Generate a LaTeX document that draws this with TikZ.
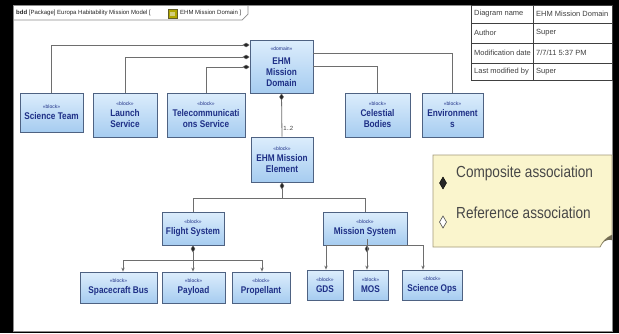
\documentclass[tikz,border=0pt]{standalone}
\usepackage{fontspec}
\setmainfont{Liberation Sans}
\newfontfamily\narrow[FakeStretch=0.85]{Liberation Sans}
\usetikzlibrary{arrows.meta,shadows,calc}

\definecolor{boxline}{HTML}{4E6282}
\definecolor{boxtop}{HTML}{DCEDFC}
\definecolor{boxbot}{HTML}{A6CCF0}
\definecolor{nametext}{HTML}{1E2F86}
\definecolor{linegray}{HTML}{6E6E6E}
\definecolor{notefill}{HTML}{FAF5CD}
\definecolor{noteline}{HTML}{A39A78}
\definecolor{frameline}{HTML}{8C8C8C}

\newcommand\stereo[1]{{\normalfont\fontsize{5}{6}\selectfont «#1»}}

\tikzset{
  blockbox/.style={draw=boxline, line width=0.8pt, top color=boxtop, bottom color=boxbot,
    drop shadow={shadow xshift=1.3pt, shadow yshift=-1.3pt, fill=black!40, opacity=0.45},
    inner sep=0.5pt, align=center, text=nametext,
    font=\narrow\bfseries\fontsize{9.7}{11}\selectfont},
  sz/.style 2 args={minimum width=#1, minimum height=#2},
  conn/.style={draw=linegray, line width=0.8pt},
  comphead/.style={{Diamond[length=7pt,width=4.5pt,fill=black!85,line width=0.4pt]}-},
  parthead/.style={-{Stealth[length=4pt,width=3.4pt]}},
  cell/.style={anchor=west, inner sep=0pt, font=\fontsize{7.5}{9}\selectfont, text=black!75},
}

\begin{document}
\begin{tikzpicture}[x=1pt,y=-1pt]
  % canvas and diagram frame
  \fill[black] (0,0) rectangle (619,333);
  \useasboundingbox (0,0) rectangle (619,333);
  \fill[white] (13,5) rectangle (612,331);
  \draw[frameline, line width=0.7pt] (13,5) rectangle (612,331);

  % frame header tab
  \draw[frameline, line width=0.7pt] (13,20) -- (242,20) -- (248,14) -- (248,5);
  \node[anchor=west, inner sep=0pt, font=\fontsize{6}{7}\selectfont, text=black!85] (hdr1) at (16,13)
    {\textbf{bdd} [Package] Europa Habitability Mission Model [};
  \fill[olive!70!yellow, draw=olive!60!black, line width=0.3pt] (168,9.5) rectangle (177,18);
  \fill[olive!40!white] (170,12) rectangle (175,16);
  \node[anchor=west, inner sep=0pt, font=\fontsize{6}{7}\selectfont, text=black!85] (hdr2) at (180,13)
    {EHM Mission Domain ]};

  % diagram info table
  \draw[black!75, line width=0.7pt] (471,5) rectangle (612,80);
  \draw[black!75, line width=0.7pt] (471,23) -- (612,23) (471,43) -- (612,43) (471,63) -- (612,63)
    (533,5) -- (533,80);
  \node[cell] (t1a) at (474,14) {Diagram name};
  \node[cell] (t1b) at (536,14) {EHM Mission Domain};
  \node[cell] (t2a) at (474,33) {Author};
  \node[cell] (t2b) at (536,33) {Super};
  \node[cell] (t3a) at (474,53) {Modification date};
  \node[cell] (t3b) at (536,53) {7/7/11 5:37 PM};
  \node[cell] (t4a) at (474,71.5) {Last modified by};
  \node[cell] (t4b) at (536,71.5) {Super};

  % blocks
  \node[blockbox, sz={63}{53}] (dom) at (281.5,66.5) {\stereo{domain}\\[3pt]EHM\\Mission\\Domain};
  \node[blockbox, sz={63}{39}] (sci) at (51.5,112.5) {\stereo{block}\\Science Team};
  \node[blockbox, sz={64}{44}] (lau) at (125,115) {\stereo{block}\\Launch\\Service};
  \node[blockbox, sz={78}{44}] (tel) at (206,115) {\stereo{block}\\Telecommunicati\\ons Service};
  \node[blockbox, sz={65}{44}] (cel) at (377.5,115) {\stereo{block}\\Celestial\\Bodies};
  \node[blockbox, sz={61}{44}] (env) at (452.5,115) {\stereo{block}\\Environment\\s};
  \node[blockbox, sz={62}{45}] (ele) at (282,159.5) {\stereo{block}\\EHM Mission\\Element};
  \node[blockbox, sz={62}{33}] (fli) at (193,228.5) {\stereo{block}\\Flight System};
  \node[blockbox, sz={84}{33}] (mis) at (365,228.5) {\stereo{block}\\Mission System};
  \node[blockbox, sz={77}{31}] (bus) at (118.5,287.5) {\stereo{block}\\Spacecraft Bus};
  \node[blockbox, sz={63}{31}] (pay) at (193.5,287.5) {\stereo{block}\\Payload};
  \node[blockbox, sz={58}{31}] (pro) at (261,287.5) {\stereo{block}\\Propellant};
  \node[blockbox, sz={36}{30}] (gds) at (325,285) {\stereo{block}\\GDS};
  \node[blockbox, sz={35}{30}] (mos) at (370.5,285) {\stereo{block}\\MOS};
  \node[blockbox, sz={60}{30}] (sop) at (432,285) {\stereo{block}\\Science Ops};

  % domain associations
  \draw[conn, comphead] (dom.west |- 0,45) -| (sci.north);
  \draw[conn, comphead] (dom.west |- 0,57) -| (lau.north);
  \draw[conn, comphead] (dom.west |- 0,67) -| (tel.north);
  \draw[conn] (dom.east |- 0,53) -| (env.north);
  \draw[conn] (dom.east |- 0,66) -| (cel.north);
  \draw[conn, comphead] (dom.south) -- (ele.north)
    node[pos=0.82, anchor=west, inner sep=1pt, font=\fontsize{6}{7}\selectfont, text=black!75] (mult) {1..2};

  % element decomposition
  \coordinate (j1) at (ele.south |- 0,198);
  \draw[conn, comphead] (ele.south) -- (j1);
  \draw[conn] (j1) -| (fli.north);
  \draw[conn] (j1) -| (mis.north);

  % flight system parts
  \coordinate (j2) at (fli.south |- 0,260);
  \draw[conn, comphead] (fli.south) -- (j2);
  \draw[conn, parthead] (j2) -| ($(bus.north)+(4.5,0)$);
  \draw[conn, parthead] (j2) -- (pay.north -| j2);
  \draw[conn, parthead] (j2) -| ($(pro.north)+(1,0)$);

  % mission system parts
  \coordinate (j3) at ($(mis.south)+(2,0)$ |- 0,259);
  \draw[conn, comphead] ($(mis.south)+(2,0)$) -- (j3);
  \draw[conn, parthead] (j3) -| ($(gds.north)+(1,0)$);
  \draw[conn, parthead] (j3) -- (mos.north -| j3);
  \draw[conn, parthead] (j3) -| ($(sop.north)+(-9,0)$);

  % legend note with folded corner
  \draw[noteline, fill=notefill, line width=0.8pt]
    (433,155) -- (612,155) -- (612,235) .. controls (606,238) and (603,241) .. (600,247) -- (433,247) -- cycle;
  \fill[noteline!70!black] (612,235) .. controls (606,238) and (603,241) .. (600,247)
    .. controls (602,242) and (606,239) .. (612,240) -- cycle;
  \draw[fill=black!85, line width=0.4pt] (443,177) -- (446.5,183) -- (443,189) -- (439.5,183) -- cycle;
  \draw[black!70, fill=white, line width=0.6pt] (443,216) -- (446.5,222) -- (443,228) -- (439.5,222) -- cycle;
  \node[anchor=west, inner sep=0pt, text=black!72, font=\narrow\fontsize{16}{18}\selectfont] (lg1) at (456,173) {Composite association};
  \node[anchor=west, inner sep=0pt, text=black!72, font=\narrow\fontsize{16}{18}\selectfont] (lg2) at (456,213) {Reference association};
\end{tikzpicture}
\end{document}
